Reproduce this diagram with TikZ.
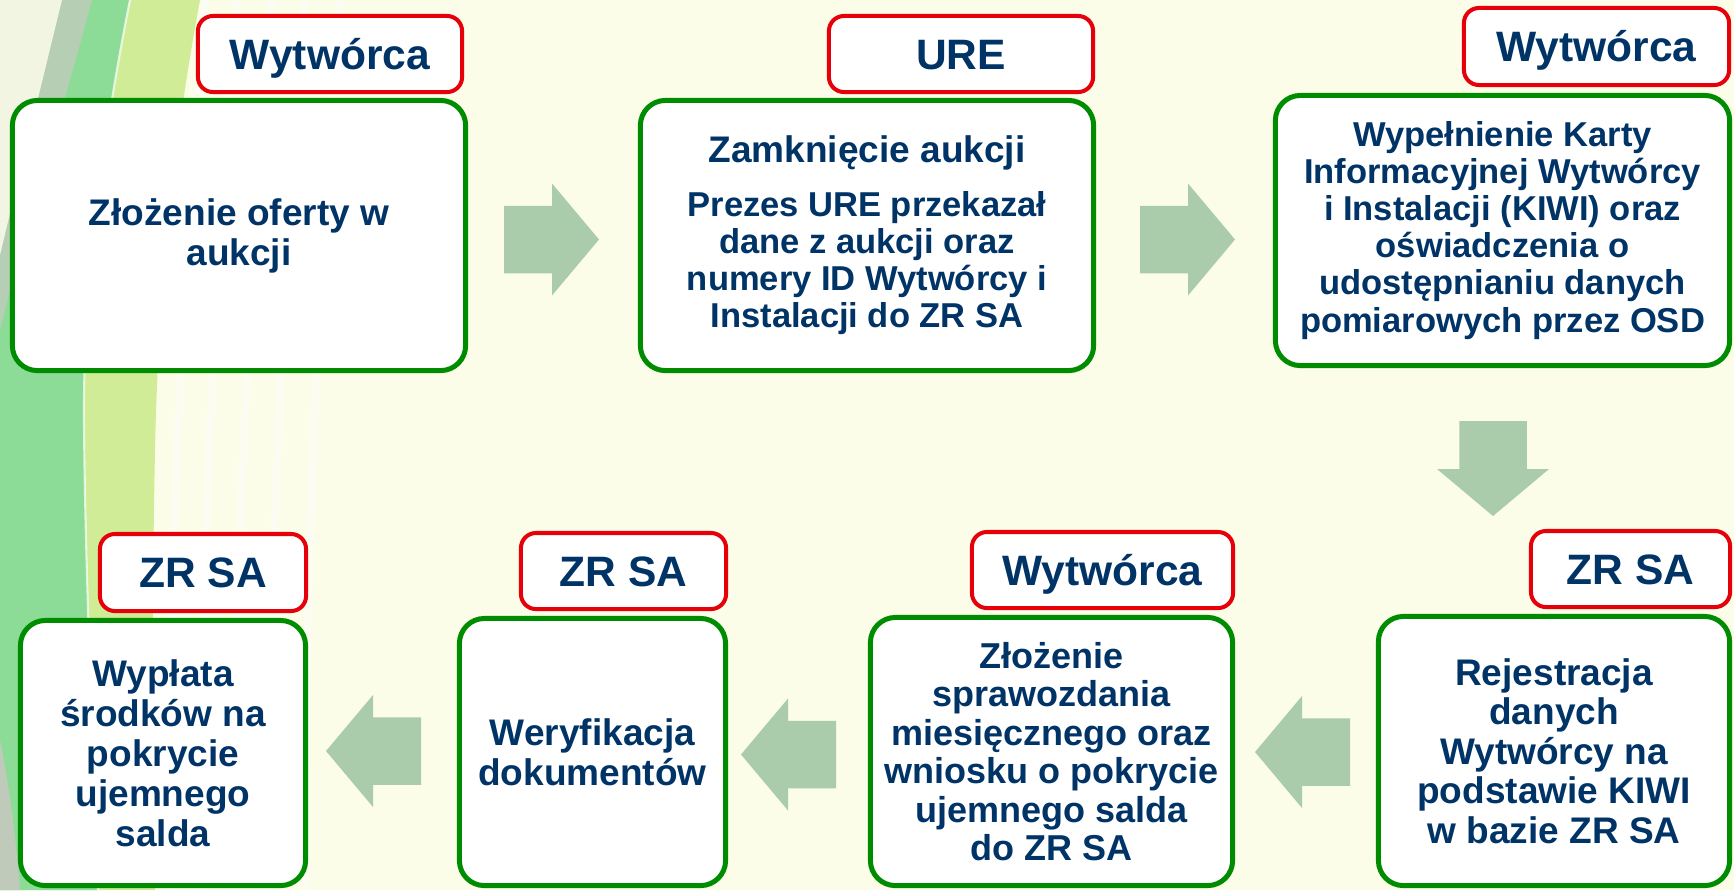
\documentclass[tikz,border=0pt]{standalone}
\usepackage{fontspec}
\setmainfont{Liberation Sans}
\usetikzlibrary{calc}
\definecolor{bgcream}{RGB}{251,253,232}
\definecolor{swlime}{RGB}{208,236,150}
\definecolor{swgreen}{RGB}{140,220,152}
\definecolor{swgray}{RGB}{192,202,186}
\definecolor{boxgreen}{RGB}{0,140,0}
\definecolor{tagred}{RGB}{230,0,10}
\definecolor{navy}{RGB}{0,51,102}
\definecolor{arrowgreen}{RGB}{171,204,171}
\tikzset{
  stepbox/.style={draw=boxgreen, line width=1.42pt, rounded corners=0.25cm, fill=white,
    align=center, text=navy, inner sep=0pt},
  tagbox/.style={draw=tagred, line width=1.14pt, rounded corners=0.15cm, fill=white,
    text=navy, inner sep=0pt, font=\bfseries\fontsize{12.09}{14}\selectfont,
    text height=0.304cm, text depth=0pt},
  fbig/.style={font=\bfseries\fontsize{10.53}{11.38}\selectfont},
  pics/blockarrow/.style={code={
    \fill[arrowgreen] (-48,-33.75) -- (0,-33.75) -- (0,-56) -- (47,0) -- (0,56) -- (0,33.75) -- (-48,33.75) -- cycle;}}
}
\begin{document}
\begin{tikzpicture}[x=0.01cm,y=-0.01cm]
\useasboundingbox (0,0) rectangle (1734,890);
% background
\fill[bgcream] (0,0) rectangle (1734,890);
% faint stripes
\foreach \dx in {0,32,66,100,136}
  \draw[white, opacity=0.45, line width=2pt] ({205+\dx},0) .. controls ({180+\dx},300) and ({168+\dx},600) .. ({170+\dx},890);
% lime band
\fill[swlime] (0,0) -- (200,0) .. controls (172,150) and (158,300) .. (155,450) .. controls (152,600) and (152,750) .. (155,890) -- (0,890) -- cycle;
% medium green band
\fill[swgreen] (0,0) -- (130,0) .. controls (100,150) and (83,300) .. (84,420) .. controls (85,560) and (92,720) .. (98,890) -- (0,890) -- cycle;
\draw[white, opacity=0.7, line width=0.6pt] (130,0) .. controls (100,150) and (83,300) .. (84,420) .. controls (85,560) and (92,720) .. (98,890);
% gray shading top-left
\fill[swgray!80!swgreen] (0,0) -- (92,0) .. controls (60,120) and (25,230) .. (0,330) -- cycle;
\fill[bgcream!85!swgray] (0,0) -- (62,0) .. controls (40,90) and (18,180) .. (0,255) -- cycle;
% gray bottom-left
\fill[swgray] (0,740) .. controls (10,790) and (16,840) .. (20,890) -- (0,890) -- cycle;

% top row
\node[stepbox, fbig, minimum width=4.53cm, minimum height=2.70cm] (b1) at (239,235.5)
  {Złożenie oferty w\\aukcji};
\node[tagbox, minimum width=2.64cm, minimum height=0.76cm] (t1) at (330,54) {Wytwórca};

\node[stepbox, font=\bfseries\fontsize{9.82}{10.53}\selectfont, minimum width=4.53cm, minimum height=2.70cm] (b2) at (867,235.5)
  {{\fontsize{10.53}{11.38}\selectfont Zamknięcie aukcji}\\[4.8pt]Prezes URE przekazał\\dane z aukcji oraz\\numery ID Wytwórcy i\\Instalacji do ZR SA};
\node[tagbox, minimum width=2.64cm, minimum height=0.76cm] (t2) at (961,54) {URE};

\node[stepbox, font=\bfseries\fontsize{9.82}{10.53}\selectfont, minimum width=4.54cm, minimum height=2.70cm] (b3) at (1502.5,230.5)
  {Wypełnienie Karty\\Informacyjnej Wytwórcy\\i Instalacji (KIWI) oraz\\oświadczenia o\\udostępnianiu danych\\pomiarowych przez OSD};
\node[tagbox, minimum width=2.65cm, minimum height=0.77cm] (t3) at (1596.5,46.5) {Wytwórca};

% bottom row
\node[stepbox, font=\bfseries\fontsize{10.53}{11.24}\selectfont, minimum width=3.51cm, minimum height=2.69cm] (b4) at (1554,751)
  {Rejestracja\\danych\\Wytwórcy na\\podstawie KIWI\\w bazie ZR SA};
\node[tagbox, minimum width=1.99cm, minimum height=0.76cm] (t4) at (1630.5,569) {ZR SA};

\node[stepbox, font=\bfseries\fontsize{10.24}{10.95}\selectfont, minimum width=3.62cm, minimum height=2.68cm] (b5) at (1051.5,751.5)
  {Złożenie\\sprawozdania\\miesięcznego oraz\\wniosku o pokrycie\\ujemnego salda\\do ZR SA};
\node[tagbox, minimum width=2.61cm, minimum height=0.76cm] (t5) at (1102.5,570) {Wytwórca};

\node[stepbox, fbig, minimum width=2.66cm, minimum height=2.67cm] (b6) at (592.5,752)
  {Weryfikacja\\dokumentów};
\node[tagbox, minimum width=2.05cm, minimum height=0.76cm] (t6) at (623.5,571) {ZR SA};

\node[stepbox, fbig, minimum width=2.85cm, minimum height=2.65cm] (b7) at (163,753)
  {Wypłata\\środków na\\pokrycie\\ujemnego\\salda};
\node[tagbox, minimum width=2.06cm, minimum height=0.77cm] (t7) at (203,572.5) {ZR SA};

% block arrows between steps
\pic at (552,239.5) {blockarrow};
\pic at (1188,239.5) {blockarrow};
\pic[rotate=-90] at (1493,469) {blockarrow};
\pic[rotate=180] at (1302,752) {blockarrow};
\pic[rotate=180] at (788,754.5) {blockarrow};
\pic[rotate=180] at (373,751) {blockarrow};
\end{tikzpicture}
\end{document}
